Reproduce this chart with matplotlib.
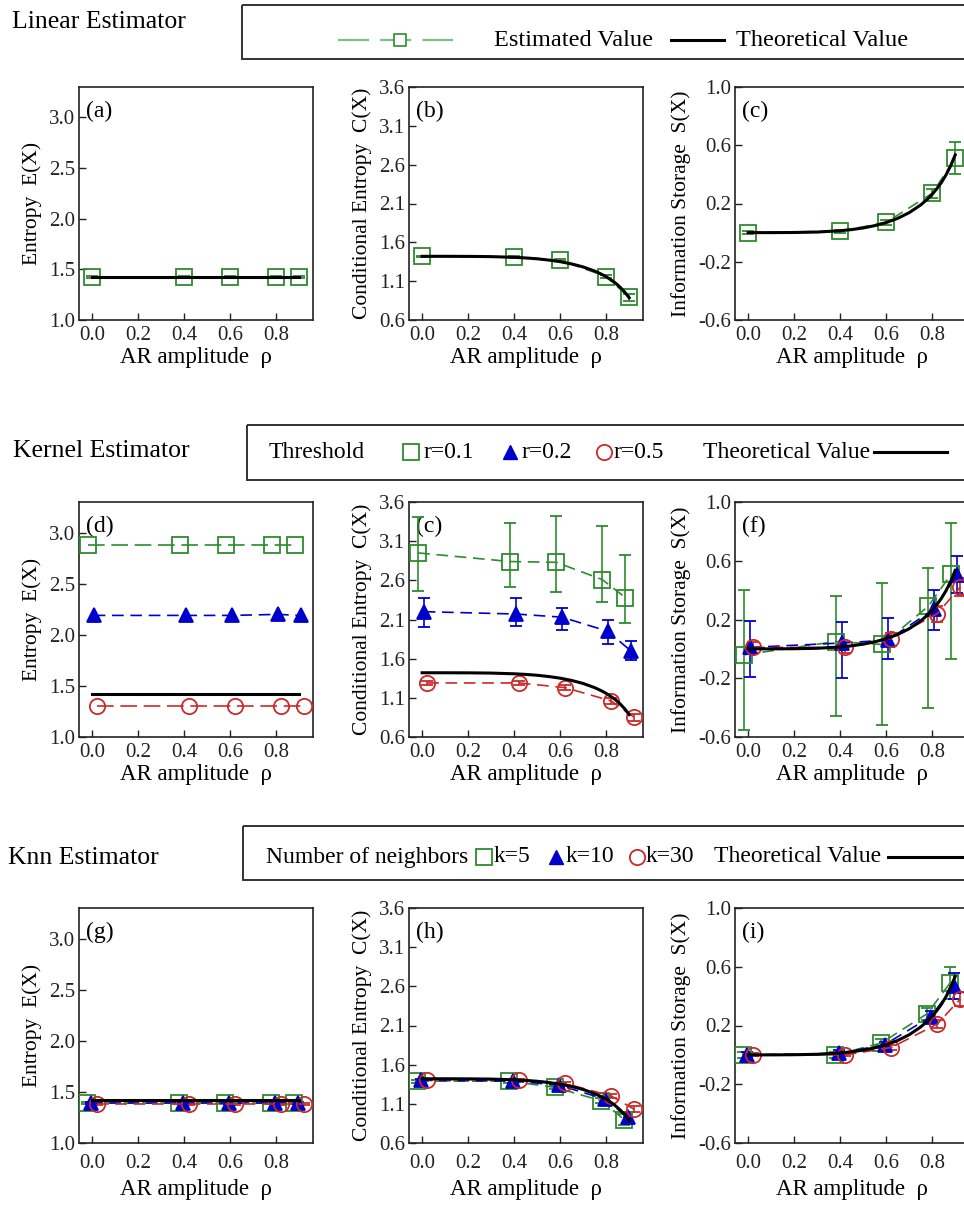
import matplotlib
matplotlib.use('Agg')
import matplotlib.pyplot as plt
from matplotlib.patches import Rectangle

plt.rcParams['font.family'] = ['Liberation Serif', 'DejaVu Serif']

# ---------------- data ----------------
rho = [0.0, 0.4, 0.6, 0.8, 0.9]
rho_theo = [0.0, 0.1, 0.2, 0.3, 0.4, 0.45, 0.5, 0.55, 0.6, 0.65, 0.7, 0.75,
            0.78, 0.8, 0.82, 0.84, 0.86, 0.88, 0.9]
E_theo = [1.42, 1.42, 1.42, 1.42, 1.42, 1.42, 1.42, 1.42, 1.42, 1.42, 1.42,
          1.42, 1.42, 1.42, 1.42, 1.42, 1.42, 1.42, 1.42]
C_theo = [1.42, 1.42, 1.419, 1.416, 1.407, 1.399, 1.388, 1.372, 1.351, 1.322,
          1.283, 1.230, 1.189, 1.157, 1.119, 1.076, 1.024, 0.962, 0.886]
S_theo = [0.0, 0.0, 0.001, 0.004, 0.013, 0.021, 0.032, 0.048, 0.069, 0.098,
          0.137, 0.190, 0.231, 0.263, 0.301, 0.344, 0.396, 0.458, 0.534]

# Linear estimator
lin_E = [1.42, 1.42, 1.42, 1.42, 1.42]
lin_E_err = [0.01, 0.01, 0.01, 0.01, 0.01]
lin_C = [1.42, 1.41, 1.37, 1.16, 0.89]
lin_C_err = [0.01, 0.01, 0.01, 0.02, 0.04]
lin_S = [0.00, 0.01, 0.07, 0.27, 0.51]
lin_S_err = [0.01, 0.01, 0.02, 0.03, 0.11]

# Kernel estimator (r=0.1 green, r=0.2 blue, r=0.5 red)
ker_E_g = [2.88, 2.88, 2.88, 2.88, 2.88]
ker_E_b = [2.19, 2.19, 2.19, 2.20, 2.19]
ker_E_r = [1.30, 1.30, 1.30, 1.30, 1.30]

ker_C_g = [2.95, 2.84, 2.83, 2.61, 2.38]
ker_C_g_lo = [2.47, 2.51, 2.45, 2.32, 2.06]
ker_C_g_hi = [3.41, 3.33, 3.42, 3.30, 2.92]
ker_C_b = [2.20, 2.17, 2.13, 1.95, 1.70]
ker_C_b_lo = [2.00, 2.02, 1.97, 1.79, 1.58]
ker_C_b_hi = [2.37, 2.38, 2.25, 2.10, 1.83]
ker_C_r = [1.29, 1.29, 1.23, 1.06, 0.85]
ker_C_r_lo = [1.26, 1.26, 1.20, 1.02, 0.81]
ker_C_r_hi = [1.32, 1.32, 1.26, 1.10, 0.89]

ker_S_g = [-0.04, 0.05, 0.03, 0.29, 0.51]
ker_S_g_lo = [-0.55, -0.46, -0.52, -0.40, -0.07]
ker_S_g_hi = [0.40, 0.36, 0.45, 0.55, 0.86]
ker_S_b = [0.01, 0.04, 0.06, 0.27, 0.50]
ker_S_b_lo = [-0.19, -0.20, -0.07, 0.13, 0.38]
ker_S_b_hi = [0.19, 0.18, 0.21, 0.40, 0.63]
ker_S_r = [0.01, 0.01, 0.07, 0.24, 0.42]
ker_S_r_lo = [-0.03, -0.03, 0.02, 0.18, 0.36]
ker_S_r_hi = [0.05, 0.05, 0.11, 0.29, 0.48]

# Knn estimator (k=5 green, k=10 blue, k=30 red)
knn_E_g = [1.39, 1.39, 1.39, 1.39, 1.39]
knn_E_b = [1.39, 1.39, 1.39, 1.39, 1.39]
knn_E_r = [1.385, 1.385, 1.385, 1.385, 1.385]
knn_E_err = [0.01, 0.01, 0.01, 0.01, 0.01]

knn_C_g = [1.39, 1.39, 1.31, 1.14, 0.90]
knn_C_g_err = [0.02, 0.02, 0.02, 0.03, 0.07]
knn_C_b = [1.40, 1.39, 1.34, 1.16, 0.93]
knn_C_b_err = [0.02, 0.02, 0.02, 0.03, 0.06]
knn_C_r = [1.41, 1.41, 1.36, 1.20, 1.03]
knn_C_r_err = [0.01, 0.01, 0.02, 0.02, 0.04]

knn_S_g = [0.00, 0.00, 0.08, 0.28, 0.49]
knn_S_g_err = [0.02, 0.02, 0.03, 0.04, 0.11]
knn_S_b = [0.00, 0.01, 0.07, 0.26, 0.47]
knn_S_b_err = [0.02, 0.02, 0.02, 0.04, 0.09]
knn_S_r = [0.00, 0.00, 0.05, 0.21, 0.38]
knn_S_r_err = [0.01, 0.01, 0.02, 0.03, 0.05]

xtick_vals = [0.0, 0.2, 0.4, 0.6, 0.8]
xtick_labels = ['0.0', '0.2', '0.4', '0.6', '0.8']
E_ticks = [1.0, 1.5, 2.0, 2.5, 3.0]
C_ticks = [0.6, 1.1, 1.6, 2.1, 2.6, 3.1, 3.6]
S_ticks = [-0.6, -0.2, 0.2, 0.6, 1.0]

# ---------------- style ----------------
GREEN = '#2e8b2e'
LGREEN = '#7fbf7f'
BLUE = '#0000cc'
RED = '#cc2a2a'
DASH = (0, (7, 4))

W, H = 964, 1207
fig = plt.figure(figsize=(W / 100, H / 100), dpi=100)


def px_axes(l, t, r, b):
    return fig.add_axes([l / W, 1 - b / H, (r - l) / W, (b - t) / H])


cols = [(79, 313), (409, 643), (735, 969)]
rows = [(87, 320), (502, 737), (908, 1143)]
xpads = [4, 4, 8]
xlabelpads = [2, 2, 4]

ylabels = ['Entropy  E(X)', 'Conditional Entropy  C(X)', 'Information Storage  S(X)']
ylims = [(1.0, 3.3), (0.6, 3.6), (-0.6, 1.0)]
yticks = [E_ticks, C_ticks, S_ticks]
letters = [['(a)', '(b)', '(c)'], ['(d)', '(c)', '(f)'], ['(g)', '(h)', '(i)']]

axes = {}
for ri, (t, b) in enumerate(rows):
    for ci, (l, r) in enumerate(cols):
        ax = px_axes(l, t, r, b)
        ax.set_xlim(-0.057, 0.96)
        ax.set_ylim(*ylims[ci])
        ax.set_xticks(xtick_vals)
        ax.set_xticklabels(xtick_labels, fontsize=15)
        ax.set_yticks(yticks[ci])
        ax.set_yticklabels(['%.1f' % v for v in yticks[ci]], fontsize=15)
        ax.tick_params(direction='in', length=5, width=1, colors='#222222')
        ax.tick_params(axis='x', pad=xpads[ri])
        ax.tick_params(axis='y', pad=3)
        for s in ax.spines.values():
            s.set_linewidth(1.2)
            s.set_color('#222222')
        ax.set_ylabel(ylabels[ci], fontsize=15.5, labelpad=5)
        ax.set_xlabel('AR amplitude  ρ', fontsize=16.5, labelpad=xlabelpads[ri])
        ax.text(0.03, 0.895, letters[ri][ci], transform=ax.transAxes,
                fontsize=17, va='center', ha='left')
        axes[(ri, ci)] = ax


def series(ax, x, y, err, color, marker, mfc, ms, lw=1.2, ls=DASH, z=3):
    ax.errorbar(x, y, yerr=err, color=color, marker=marker, mfc=mfc, mec=color,
                ms=ms, mew=1.3, ls=ls, lw=lw, elinewidth=1.2, capsize=4.5,
                capthick=1.2, zorder=z)


def asym(y, lo, hi):
    return [[a - b for a, b in zip(y, lo)], [b - a for a, b in zip(y, hi)]]


def shift(x, d):
    return [v + d for v in x]


theo = [E_theo, C_theo, S_theo]

# Row 1 linear
for ci, (y, e) in enumerate([(lin_E, lin_E_err), (lin_C, lin_C_err), (lin_S, lin_S_err)]):
    ax = axes[(0, ci)]
    series(ax, rho, y, e, GREEN, 's', 'none', 12, lw=1.2, ls=DASH)
    ax.plot(rho_theo, theo[ci], color='black', lw=2.2, zorder=5)

# Row 2 kernel
dg, db, dr = -0.017, 0.007, 0.022
ax = axes[(1, 0)]
series(ax, shift(rho, dg), ker_E_g, None, GREEN, 's', 'none', 11, ls=(0, (10, 4)))
series(ax, shift(rho, db), ker_E_b, None, BLUE, '^', BLUE, 10)
series(ax, shift(rho, dr), ker_E_r, None, RED, 'o', 'none', 11, ls=(0, (10, 4)))
ax.plot(rho_theo, E_theo, color='black', lw=2.2, zorder=5)

ax = axes[(1, 1)]
series(ax, shift(rho, dg), ker_C_g, asym(ker_C_g, ker_C_g_lo, ker_C_g_hi), GREEN, 's', 'none', 11)
series(ax, shift(rho, db), ker_C_b, asym(ker_C_b, ker_C_b_lo, ker_C_b_hi), BLUE, '^', BLUE, 10)
series(ax, shift(rho, dr), ker_C_r, asym(ker_C_r, ker_C_r_lo, ker_C_r_hi), RED, 'o', 'none', 11)
ax.plot(rho_theo, C_theo, color='black', lw=2.2, zorder=5)

ax = axes[(1, 2)]
series(ax, shift(rho, dg), ker_S_g, asym(ker_S_g, ker_S_g_lo, ker_S_g_hi), GREEN, 's', 'none', 11)
series(ax, shift(rho, db), ker_S_b, asym(ker_S_b, ker_S_b_lo, ker_S_b_hi), BLUE, '^', BLUE, 10)
series(ax, shift(rho, dr), ker_S_r, asym(ker_S_r, ker_S_r_lo, ker_S_r_hi), RED, 'o', 'none', 11)
ax.plot(rho_theo, S_theo, color='black', lw=2.2, zorder=5)

# Row 3 knn
kg, kb, kr = -0.022, -0.006, 0.022
knn = [
    ((knn_E_g, knn_E_err), (knn_E_b, knn_E_err), (knn_E_r, knn_E_err)),
    ((knn_C_g, knn_C_g_err), (knn_C_b, knn_C_b_err), (knn_C_r, knn_C_r_err)),
    ((knn_S_g, knn_S_g_err), (knn_S_b, knn_S_b_err), (knn_S_r, knn_S_r_err)),
]
for ci in range(3):
    ax = axes[(2, ci)]
    (yg, eg), (yb, eb), (yr, er) = knn[ci]
    series(ax, shift(rho, kg), yg, eg, GREEN, 's', 'none', 11)
    series(ax, shift(rho, kb), yb, eb, BLUE, '^', BLUE, 10)
    series(ax, shift(rho, kr), yr, er, RED, 'o', 'none', 11)
    ax.plot(rho_theo, theo[ci], color='black', lw=2.2, zorder=5)

# ---------------- headings and legend boxes ----------------
lax = fig.add_axes([0, 0, 1, 1], zorder=-1)
lax.set_xlim(0, W)
lax.set_ylim(H, 0)
lax.axis('off')
lax.patch.set_alpha(0)

TS = 18.5
lax.text(12, 22, 'Linear Estimator', fontsize=TS, va='center', ha='left')
lax.text(13, 451, 'Kernel Estimator', fontsize=TS, va='center', ha='left')
lax.text(8, 858, 'Knn Estimator', fontsize=TS, va='center', ha='left')

for (x0, y0, y1) in [(242, 5, 59), (247, 425, 480), (243, 826, 880)]:
    lax.add_patch(Rectangle((x0, y0), 1000, y1 - y0, fill=False,
                            ec='#333333', lw=1.4))

# legend 1
ly = 40
L1 = 17.5
lax.plot([338, 453], [ly, ly], color=LGREEN, ls=(0, (14, 5)), lw=1.6)
lax.plot([400], [ly], marker='s', mfc='white', mec=GREEN, ms=9, mew=1.2)
lax.text(494, ly, 'Estimated Value', fontsize=L1, va='center')
lax.plot([671, 724], [ly, ly], color='black', lw=2.2)
lax.text(736, ly, 'Theoretical Value', fontsize=L1, va='center')

# legend 2
ly = 452
L2 = 17
lax.text(269, ly, 'Threshold', fontsize=L2, va='center')
lax.plot([411], [ly], marker='s', mfc='none', mec=GREEN, ms=12, mew=1.3)
lax.text(423, ly, 'r=0.1', fontsize=L2, va='center')
lax.plot([510], [ly], marker='^', mfc=BLUE, mec=BLUE, ms=10)
lax.text(521, ly, 'r=0.2', fontsize=L2, va='center')
lax.plot([604], [ly], marker='o', mfc='none', mec=RED, ms=11, mew=1.3)
lax.text(613, ly, 'r=0.5', fontsize=L2, va='center')
lax.text(703, ly, 'Theoretical Value', fontsize=L2, va='center')
lax.plot([874, 947], [ly, ly], color='black', lw=2.2)

# legend 3
ly = 857
L3 = 17
lax.text(266, ly, 'Number of neighbors', fontsize=L3, va='center')
lax.plot([484], [ly], marker='s', mfc='none', mec=GREEN, ms=12, mew=1.3)
lax.text(494, ly, 'k=5', fontsize=L3, va='center')
lax.plot([556], [ly], marker='^', mfc=BLUE, mec=BLUE, ms=10)
lax.text(566, ly, 'k=10', fontsize=L3, va='center')
lax.plot([637], [ly], marker='o', mfc='none', mec=RED, ms=11, mew=1.3)
lax.text(646, ly, 'k=30', fontsize=L3, va='center')
lax.text(714, ly, 'Theoretical Value', fontsize=L3, va='center')
lax.plot([888, 964], [ly, ly], color='black', lw=2.2)

fig.savefig('out.png', dpi=100)
